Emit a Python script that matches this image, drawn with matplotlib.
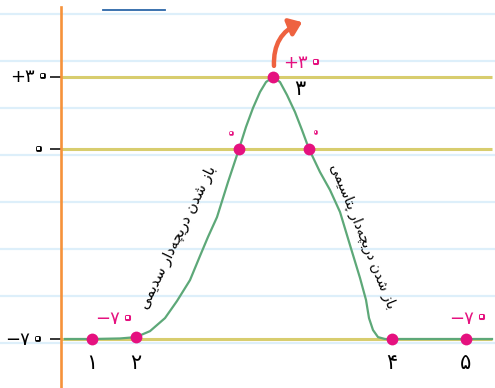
import numpy as np
import matplotlib
matplotlib.use("Agg")
import matplotlib.pyplot as plt
import matplotlib.patheffects as pe
from matplotlib.transforms import offset_copy

plt.rcParams['font.family'] = ['DejaVu Sans']

# ---------------- data (time in arbitrary units, membrane potential in mV) ----
times = [65, 92, 120, 136, 150, 165, 177, 190, 200, 208, 217, 228, 239, 246, 253,
         260, 266, 273, 280, 287, 295, 302, 309, 320, 330, 340, 350, 360, 366, 369,
         373, 378, 385, 392, 466, 492]
volts = [-70, -70, -69.8, -69.3, -67.1, -62.3, -56.0, -48.3, -39.4, -32.4, -25.1,
         -12.2, 0, 9.2, 17.1, 23.75, 27.9, 30, 27.9, 22.5, 15.4, 7.9, 0, -8.5, -15.1,
         -23.2, -35.4, -47.5, -55.6, -62.3, -66.7, -69.3, -70, -70, -70, -70]

key_t = [92, 136, 273, 392, 466]
key_v = [-70, -69.3, 30, -70, -70]
key_labels = ['۱', '۲', '۳', '۴', '۵']
zero_t = [239, 309]
zero_v = [0, 0]
ytick_vals = [-70, 0, 30]
ytick_labels = ['\u2212۷۰', '۰', '+۳۰']
peak_label = '+۳۰'
rest_label = '\u2212۷۰'
zero_label = '۰'
text_na = 'باز شدن دریچه\u200cدار سدیمی'
text_k = 'باز شدن دریچه\u200cدار پتاسیمی'

# ---------------- simple Persian shaping (presentation forms, visual order) ----
FORMS = {
    'ا': (0xFE8D, 0xFE8E, None, None),
    'ب': (0xFE8F, 0xFE90, 0xFE91, 0xFE92),
    'پ': (0xFB56, 0xFB57, 0xFB58, 0xFB59),
    'ت': (0xFE95, 0xFE96, 0xFE97, 0xFE98),
    'ز': (0xFEAF, 0xFEB0, None, None),
    'ش': (0xFEB5, 0xFEB6, 0xFEB7, 0xFEB8),
    'د': (0xFEA9, 0xFEAA, None, None),
    'ن': (0xFEE5, 0xFEE6, 0xFEE7, 0xFEE8),
    'ر': (0xFEAD, 0xFEAE, None, None),
    'ی': (0xFBFC, 0xFBFD, 0xFBFE, 0xFBFF),
    'چ': (0xFB7A, 0xFB7B, 0xFB7C, 0xFB7D),
    'ه': (0xFEE9, 0xFEEA, 0xFEEB, 0xFEEC),
    'س': (0xFEB1, 0xFEB2, 0xFEB3, 0xFEB4),
    'م': (0xFEE1, 0xFEE2, 0xFEE3, 0xFEE4),
}
DUAL = {c for c, f in FORMS.items() if f[2] is not None}


def shape(text):
    chars = list(text)
    out = []
    for i, c in enumerate(chars):
        if c not in FORMS:
            out.append(c)
            continue
        prev = chars[i - 1] if i > 0 else None
        nxt = chars[i + 1] if i + 1 < len(chars) else None
        jp = prev in DUAL
        jn = (c in DUAL) and (nxt in FORMS)
        f = FORMS[c]
        if jp and jn:
            g = f[3]
        elif jp:
            g = f[1]
        elif jn:
            g = f[2]
        else:
            g = f[0]
        out.append(chr(g))
    out = [c for c in out if c != '\u200c']
    return ''.join(reversed(out))


# ---------------- piecewise-linear potential scale ----
def fwd(y):
    y = np.asarray(y, dtype=float)
    return np.where(y >= 0, y * 2.4, y * 190.0 / 70.0)


def inv(s):
    s = np.asarray(s, dtype=float)
    return np.where(s >= 0, s / 2.4, s * 70.0 / 190.0)


PINK = '#E5117F'
GREEN = '#5DA878'
YELLOW = '#D8CD6E'
BLUE = '#DDEFFA'
ORANGE = '#F6923A'
ARROW = '#EE6240'
PX = 0.72  # points per pixel at 100 dpi

fig = plt.figure(figsize=(4.95, 3.88), dpi=100)
ax = fig.add_axes([0, 0, 1, 1])
ax.set_yscale('function', functions=(fwd, inv))
ax.set_xlim(0, 495)
ax.set_ylim(-88.05, 62.08)


def number(xy, jx, jy, s, size, color, ring=2.0):
    """Persian number; the trailing zero is drawn as a ring (hand-written style).
    jx, jy: pixel offset of the junction between prefix and zero."""
    prefix, last = (s[:-1], s[-1]) if s.endswith('۰') else (s, '')
    if prefix:
        ax.annotate(prefix, xy, xytext=(jx * PX, jy * PX), textcoords='offset points',
                    ha='right', va='center', fontsize=size, color=color, zorder=7)
    if last:
        ha = 'left' if prefix else 'center'
        ax.annotate(last, xy, xytext=((jx + (0.6 if prefix else 0)) * PX, (jy + 1.5) * PX),
                    textcoords='offset points', ha=ha, va='center', fontsize=size * 1.4,
                    color='white', zorder=7,
                    path_effects=[pe.Stroke(linewidth=ring, foreground=color,
                                            joinstyle='round'), pe.Normal()])


# notebook ruling
for ypx in [14, 61, 108, 155, 202, 249, 296, 343]:
    ax.plot([0, 1], [1 - ypx / 388, 1 - ypx / 388], transform=ax.transAxes,
            color=BLUE, lw=1.6, zorder=0, solid_capstyle='butt')
# title underline
ax.plot([103 / 495, 165 / 495], [1 - 10 / 388] * 2, transform=ax.transAxes,
        color='#2C67A8', lw=1.3, zorder=1)

# reference levels
ax.hlines(ytick_vals, 61, 492, color=YELLOW, lw=2.2, zorder=1)

# axis (orange spine) with ticks
for s in ['top', 'right', 'bottom']:
    ax.spines[s].set_visible(False)
ax.spines['left'].set_position(('data', 61))
ax.spines['left'].set_color(ORANGE)
ax.spines['left'].set_linewidth(1.9)
ax.spines['left'].set_bounds(-88.05, 59.2)
ax.spines['left'].set_zorder(3)
ax.set_xticks([])
ax.set_yticks(ytick_vals)
ax.set_yticklabels([])
ax.tick_params(axis='y', length=8, width=1.1, color='black', direction='out')
ax.yaxis.set_minor_locator(matplotlib.ticker.NullLocator())

# tick labels
tick_pos = {-70: (-31, -1), 0: (-22.5, -1), 30: (-26, -0.5)}
for v, lab in zip(ytick_vals, ytick_labels):
    jx, jy = tick_pos[v]
    number((61, v), jx, jy, lab, 13, 'black', ring=2.0)

# potential curve
ax.plot(times, volts, color=GREEN, lw=1.6, zorder=4, solid_joinstyle='round')

# key points
ax.plot(key_t, key_v, 'o', color=PINK, ms=8.5, mec='none', zorder=5)
ax.plot(zero_t, zero_v, 'o', color=PINK, ms=8.5, mec='none', zorder=5)

# number labels
for t, v, lab in zip(key_t, key_v, key_labels):
    if lab == '۳':
        ax.annotate(lab, (t, v), xytext=(19, -9), textcoords='offset points',
                    ha='center', va='center', fontsize=15, color='black')
    else:
        ax.annotate(lab, (t, -70), xytext=(0, -17), textcoords='offset points',
                    ha='center', va='center', fontsize=15, color='black')

# value labels (pink)
number((key_t[2], key_v[2]), 35, 14, peak_label, 13, PINK, ring=2.2)
number((key_t[1], key_v[1]), -16, 18, rest_label, 13, PINK, ring=2.2)
number((key_t[4], key_v[4]), 8, 20.5, rest_label, 13, PINK, ring=2.2)
number((zero_t[0], zero_v[0]), -8, 15, zero_label, 9, PINK, ring=1.8)
number((zero_t[1], zero_v[1]), 6.5, 15.5, zero_label, 9, PINK, ring=1.8)

# rotated annotations along the curve
ax.annotate(shape(text_na), (key_t[1], key_v[1]), xytext=(30, 72), textcoords='offset points',
            ha='center', va='center', rotation=64, rotation_mode='anchor',
            fontsize=10.5, color='black')
ax.annotate(shape(text_k), (zero_t[1], zero_v[1]), xytext=(38.5, -63), textcoords='offset points',
            ha='center', va='center', rotation=-68, rotation_mode='anchor',
            fontsize=10, color='black')

# red arrow leaving the peak
tip = offset_copy(ax.transData, fig=fig, x=21, y=39.5, units='points')
tail = offset_copy(ax.transData, fig=fig, x=0.7, y=8, units='points')
ax.annotate('', xy=(key_t[2], key_v[2]), xycoords=tip,
            xytext=(key_t[2], key_v[2]), textcoords=tail,
            arrowprops=dict(arrowstyle='-|>,head_length=0.6,head_width=0.45',
                            color=ARROW, lw=3.2, mutation_scale=12,
                            connectionstyle='arc3,rad=-0.35',
                            shrinkA=0, shrinkB=0), zorder=6)

fig.savefig('out.png', dpi=100)
